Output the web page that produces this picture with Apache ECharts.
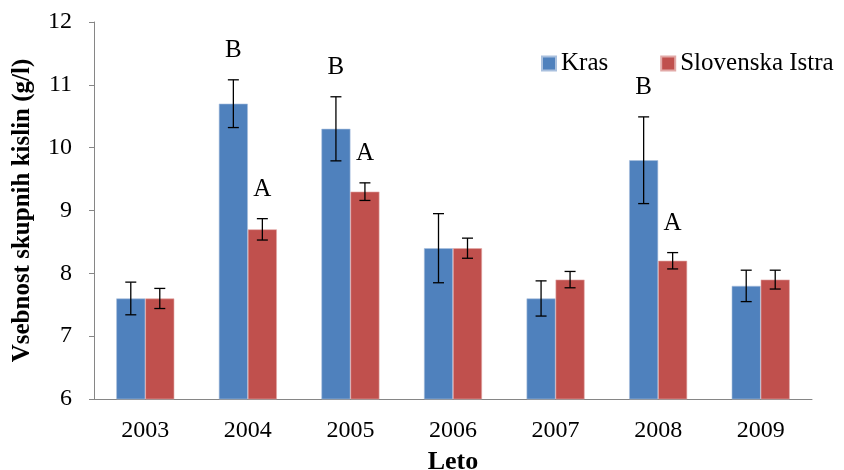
<!DOCTYPE html>
<html>
<head>
<meta charset="utf-8">
<script src="https://cdn.jsdelivr.net/npm/echarts@6/dist/echarts.min.js"></script>
<style>
  html, body { margin: 0; padding: 0; background: #fff; }
  #chart { width: 844px; height: 470px; }
</style>
</head>
<body>
<div id="chart"></div>
<script>
// Total acid content by year, two regions
const years = ['2003', '2004', '2005', '2006', '2007', '2008', '2009'];
const krasValues = [7.6, 10.7, 10.3, 8.4, 7.6, 9.8, 7.8];
const istraValues = [7.6, 8.7, 9.3, 8.4, 7.9, 8.2, 7.9];
const krasErrors = [0.26, 0.38, 0.51, 0.55, 0.28, 0.69, 0.25];
const istraErrors = [0.16, 0.17, 0.14, 0.16, 0.13, 0.13, 0.15];
const krasLetters = ['', 'B', 'B', '', '', 'B', ''];
const istraLetters = ['', 'A', 'A', '', '', 'A', ''];

const BAR_W = 29;
const serifFont = '"Liberation Serif", "Times New Roman", serif';
const axisGrey = '#868686';

// error bar with caps plus significance letter, drawn beside the bar centre
function errorSeries(name, values, errors, letters, shift) {
  const data = values.map((v, i) => [i, v, errors[i]]);
  return {
    type: 'custom',
    name: name + ' err',
    z: 10,
    silent: true,
    data: data,
    renderItem: function (params, api) {
      const idx = api.value(0);
      const val = api.value(1);
      const err = api.value(2);
      const letter = letters[idx];
      const top = api.coord([idx, val + err]);
      const bot = api.coord([idx, val - err]);
      const x = top[0] + shift;
      const cap = 5.5;
      const style = { stroke: '#000', lineWidth: 1.3 };
      const children = [
        { type: 'line', shape: { x1: x, y1: top[1], x2: x, y2: bot[1] }, style: style },
        { type: 'line', shape: { x1: x - cap, y1: top[1], x2: x + cap, y2: top[1] }, style: style },
        { type: 'line', shape: { x1: x - cap, y1: bot[1], x2: x + cap, y2: bot[1] }, style: style }
      ];
      if (letter) {
        children.push({
          type: 'text',
          style: {
            text: letter, x: x, y: top[1] - 29,
            align: 'center', verticalAlign: 'middle',
            font: '25px ' + serifFont, fill: '#000'
          }
        });
      }
      return { type: 'group', children: children };
    }
  };
}

const chart = echarts.init(document.getElementById('chart'));
chart.setOption({
  animation: false,
  color: ['#4F81BD', '#C0504D'],
  grid: { left: 94, right: 32, top: 22, bottom: 71, outerBoundsMode: 'none', containLabel: false },
  legend: {
    data: ['Kras', 'Slovenska Istra'],
    left: 536, top: 46,
    icon: 'rect', itemWidth: 14, itemHeight: 14, itemGap: 52,
    textStyle: { fontFamily: serifFont, fontSize: 25, color: '#000' }
  },
  xAxis: {
    type: 'category',
    data: years,
    name: 'Leto',
    nameLocation: 'middle',
    nameGap: 50,
    nameTextStyle: { fontFamily: serifFont, fontSize: 26, fontWeight: 'bold', color: '#000' },
    axisLine: { lineStyle: { color: axisGrey, width: 1 } },
    axisTick: { length: 6, lineStyle: { color: axisGrey } },
    axisLabel: { fontFamily: serifFont, fontSize: 24, color: '#000', margin: 20 }
  },
  yAxis: {
    type: 'value',
    min: 6, max: 12, interval: 1,
    name: 'Vsebnost skupnih kislin (g/l)',
    nameLocation: 'middle',
    nameGap: 59,
    nameTextStyle: { fontFamily: serifFont, fontSize: 25, fontWeight: 'bold', color: '#000' },
    axisLine: { show: true, lineStyle: { color: axisGrey, width: 1 } },
    axisTick: { show: true, length: 5, lineStyle: { color: axisGrey } },
    splitLine: { show: false },
    axisLabel: { fontFamily: serifFont, fontSize: 24, color: '#000', margin: 22 }
  },
  series: [
    {
      name: 'Kras', type: 'bar', data: krasValues,
      barWidth: BAR_W, barGap: '0%',
      itemStyle: { color: '#4F81BD', borderColor: '#A9C0DE', borderWidth: 0.6 }
    },
    {
      name: 'Slovenska Istra', type: 'bar', data: istraValues,
      barWidth: BAR_W, barGap: '0%',
      itemStyle: { color: '#C0504D', borderColor: '#E2A9A7', borderWidth: 0.6 }
    },
    errorSeries('Kras', krasValues, krasErrors, krasLetters, -BAR_W / 2),
    errorSeries('Slovenska Istra', istraValues, istraErrors, istraLetters, BAR_W / 2)
  ]
});
</script>
</body>
</html>
